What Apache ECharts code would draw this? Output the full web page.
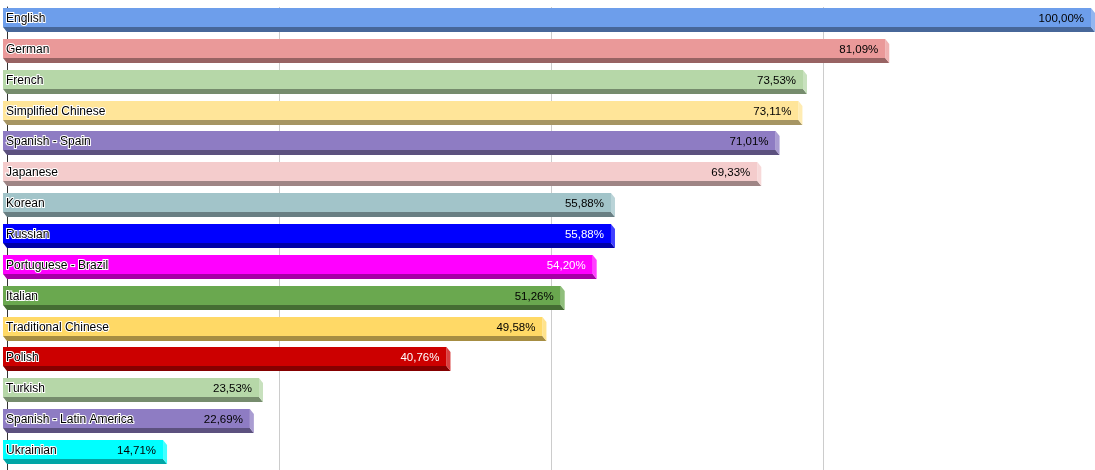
<!DOCTYPE html>
<html><head><meta charset="utf-8">
<script src="https://cdn.jsdelivr.net/npm/echarts@6/dist/echarts.min.js"></script>
<style>html,body{margin:0;padding:0;background:#fff}#c{width:1095px;height:470px}</style>
</head><body><div id="c"></div>
<script>
var categories = ["English","German","French","Simplified Chinese","Spanish - Spain","Japanese","Korean","Russian","Portuguese - Brazil","Italian","Traditional Chinese","Polish","Turkish","Spanish - Latin America","Ukrainian"];
var values = [100.00,81.09,73.53,73.11,71.01,69.33,55.88,55.88,54.20,51.26,49.58,40.76,23.53,22.69,14.71];
var colors = ["#6d9eeb","#ea9999","#b6d7a8","#ffe599","#8e7cc3","#f4cccc","#a2c4c9","#0000ff","#ff00ff","#6aa84f","#ffd966","#cc0000","#b6d7a8","#8e7cc3","#00ffff"];
var xTicks = [0,25,50,75,100];

function hex(c){return [parseInt(c.substr(1,2),16),parseInt(c.substr(3,2),16),parseInt(c.substr(5,2),16)];}
function rgb(a){return 'rgb('+a.map(function(v){return Math.max(0,Math.min(255,Math.round(v)));}).join(',')+')';}
function darker(c){return rgb(hex(c).map(function(v){return v*0.65;}));}
function lighter(c){return rgb(hex(c).map(function(v){return v+(255-v)*0.25;}));}
function isDark(c){var a=hex(c);return (0.299*a[0]+0.587*a[1]+0.114*a[2])<110;}
function fmt(v){return v.toFixed(2).replace('.',',')+'%';}

var chart = echarts.init(document.getElementById('c'));
var DX = 4, DY = 5, H = 19;
chart.setOption({
  animation:false,
  grid:{left:7,right:0,top:7,height:467,containLabel:false},
  xAxis:{type:'value',min:xTicks[0],max:xTicks[xTicks.length-1],interval:25,
    axisLabel:{show:false},axisTick:{show:false},axisLine:{show:false},
    splitLine:{show:true,lineStyle:{color:'#cccccc',width:1}}},
  yAxis:{type:'category',data:categories,inverse:true,
    axisLabel:{show:false},axisTick:{show:false},
    axisLine:{show:true,lineStyle:{color:'#333333',width:1}}},
  series:[{
    type:'custom',
    data:values.map(function(v,i){return [v,i];}),
    encode:{x:0,y:1},
    renderItem:function(params,api){
      var i = api.value(1), v = api.value(0);
      var p0 = api.coord([0,i]), p1 = api.coord([v,i]);
      var x0 = p0[0]-DX, x1 = p1[0]-DX, yTop = Math.round(p1[1]-H/2-DY);
      var c = colors[i];
      var labCol = isDark(c)?'#ffffff':'#000000';
      return {type:'group',children:[
        {type:'polygon',shape:{points:[[x0,yTop+H],[x1,yTop+H],[x1+DX,yTop+H+DY],[x0+DX,yTop+H+DY]]},style:{fill:darker(c)}},
        {type:'polygon',shape:{points:[[x1,yTop],[x1+DX,yTop+DY],[x1+DX,yTop+H+DY],[x1,yTop+H]]},style:{fill:lighter(c)}},
        {type:'rect',shape:{x:x0,y:yTop,width:x1-x0,height:H},style:{fill:c}},
        {type:'text',x:x0+3,y:yTop+H/2+1,style:{text:categories[i],fill:'#000',stroke:'#fff',lineWidth:2,
          font:'12px "Liberation Sans", Arial, sans-serif',verticalAlign:'middle',align:'left'}},
        {type:'text',x:x1-7,y:yTop+H/2+1.5,style:{text:fmt(v),fill:labCol,
          font:'11.5px "Liberation Sans", Arial, sans-serif',verticalAlign:'middle',align:'right'}}
      ]};
    }
  }]
});
</script></body></html>
